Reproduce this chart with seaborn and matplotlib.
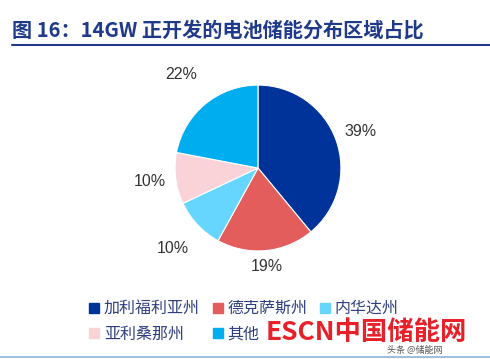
import matplotlib
matplotlib.use("Agg")
import numpy as np
import matplotlib.pyplot as plt
import seaborn as sns
from matplotlib.lines import Line2D

# data
regions = ['加利福利亚州', '德克萨斯州', '内华达州', '亚利桑那州', '其他']
shares = [39, 19, 10, 10, 22]
colors = ['#003399', '#E35D5D', '#66D6FF', '#F9D3D8', '#00AEEF']
title = '图 16：14GW 正开发的电池储能分布区域占比'

# how far out each percentage label sits (in radii)
label_dist = [1.31, 1.19, 1.41, 1.31, 1.46]

sns.set_theme(style='white')
plt.rcParams['font.family'] = ['Noto Sans CJK SC', 'DejaVu Sans']

fig = plt.figure(figsize=(4.9, 3.59), dpi=100)
ax = fig.add_axes([0.357, 0.301, 0.339, 0.462])

wedges, _, autotexts = ax.pie(
    shares, colors=colors, startangle=90, counterclock=False,
    autopct='%d%%', pctdistance=1.3,
    wedgeprops=dict(linewidth=0.8, edgecolor='white'),
    textprops=dict(fontsize=11.5, color='#333333',
                   family=['Arial', 'Liberation Sans', 'DejaVu Sans']),
)
for w, t, d in zip(wedges, autotexts, label_dist):
    ang = np.deg2rad((w.theta1 + w.theta2) / 2)
    t.set_position((d * np.cos(ang), d * np.sin(ang)))
ax.set_xlim(-1, 1)
ax.set_ylim(-1, 1)
ax.set_aspect('equal')

# title and rules
fig.text(0.024, 0.915, title, fontsize=14.5, fontweight='bold', color='#1F3A8A', va='center')
fig.add_artist(Line2D([0.024, 1.0], [0.875, 0.875], color='#1F3A8A', lw=1.5))
fig.add_artist(Line2D([0.0, 1.0], [0.006, 0.006], color='#8FB2D9', lw=1.2))

# legend: matplotlib fills columns first, so reorder to read row by row
order = [0, 3, 1, 4, 2]
handles = [Line2D([], [], marker='s', linestyle='', markersize=7,
                  markerfacecolor=colors[i], markeredgecolor=colors[i]) for i in order]
fig.legend(handles, [regions[i] for i in order], ncol=3, loc='upper left',
           bbox_to_anchor=(0.16, 0.195), frameon=False, fontsize=11.5,
           handlelength=0.6, handletextpad=0.3, columnspacing=0.8,
           labelspacing=0.55, labelcolor='#2F3F7F', borderpad=0.2)

# watermark
fig.text(0.542, 0.075, 'ESCN中国储能网', fontsize=19, fontweight='bold', color='#E8202A', va='center')
fig.text(0.79, 0.024, '头条 @储能网', fontsize=6.5, color='#555555', va='center')

fig.savefig('out.png', dpi=100)
